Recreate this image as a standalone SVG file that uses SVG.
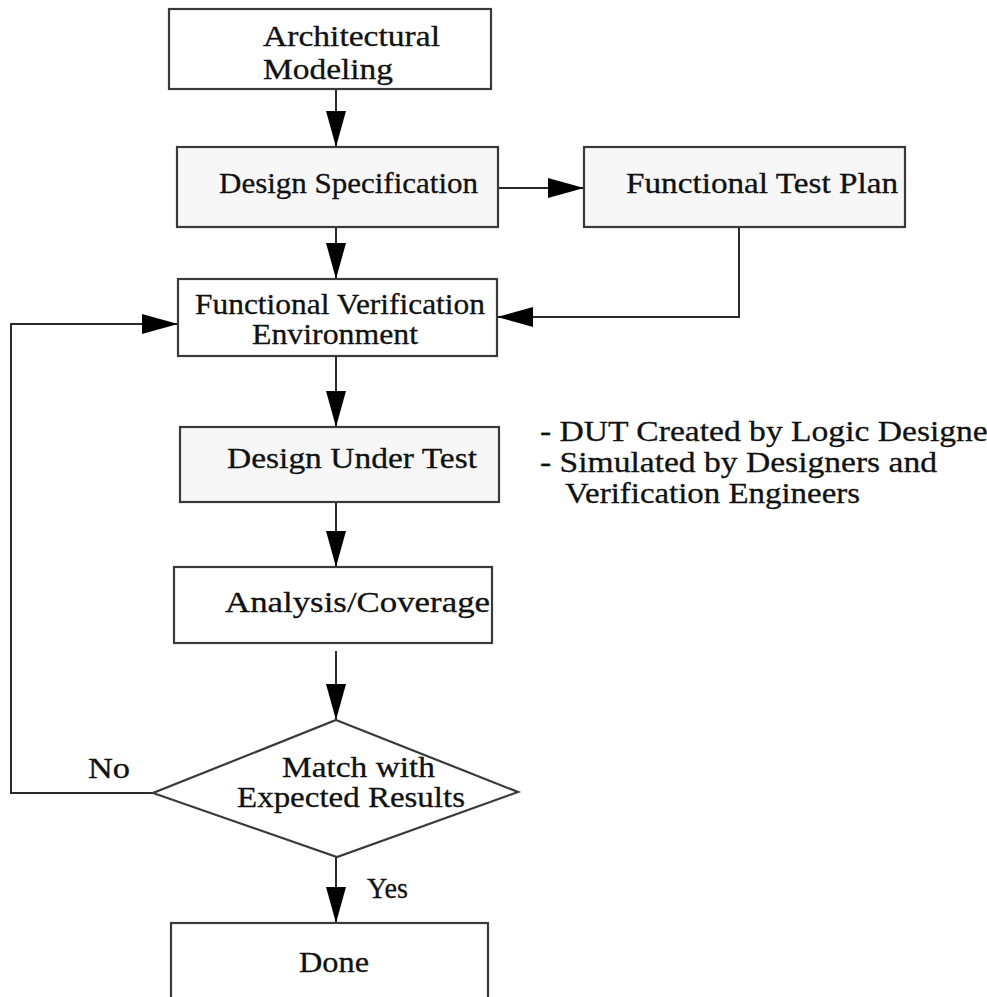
<svg xmlns="http://www.w3.org/2000/svg" width="987" height="997" viewBox="0 0 987 997">
<defs>
<marker id="arr" markerUnits="userSpaceOnUse" markerWidth="36" markerHeight="20" refX="36" refY="10" orient="auto" viewBox="0 0 36 20">
<path d="M0,0 L36,10 L0,20 z" fill="#000"/>
</marker>
</defs>
<style>
.box{stroke:#3a3a3a;stroke-width:2.2;fill:#fff}
.gray{fill:#f7f7f7}
.t{font-family:"Liberation Serif","Times New Roman",serif;font-size:30px;fill:#111;stroke:#111;stroke-width:0.3}
.c{fill:none;stroke:#2a2a2a;stroke-width:2}
.a{marker-end:url(#arr)}
</style>
<rect width="987" height="997" fill="#fff"/>
<g id="connectors">
<line class="c a" x1="336" y1="89" x2="336" y2="147"/>
<line class="c a" x1="336" y1="227" x2="336" y2="279"/>
<line class="c a" x1="498" y1="188" x2="584" y2="188"/>
<polyline class="c a" points="739,227 739,317 497,317"/>
<line class="c a" x1="336" y1="356" x2="336" y2="427"/>
<line class="c a" x1="336" y1="502" x2="336" y2="567"/>
<line class="c a" x1="336" y1="651" x2="336" y2="720"/>
<line class="c a" x1="336" y1="857" x2="336" y2="923"/>
<polyline class="c a" points="153,793 11,793 11,324 178,324"/>
</g>
<g id="architectural-modeling">
<rect class="box" x="169" y="9" width="322" height="80"/>
<text class="t" x="263" y="46" textLength="177" lengthAdjust="spacingAndGlyphs">Architectural</text>
<text class="t" x="263" y="79" textLength="130" lengthAdjust="spacingAndGlyphs">Modeling</text>
</g>
<g id="design-specification">
<rect class="box gray" x="177" y="147" width="321" height="80"/>
<text class="t" x="219" y="193" textLength="259" lengthAdjust="spacingAndGlyphs">Design Specification</text>
</g>
<g id="functional-test-plan">
<rect class="box gray" x="584" y="147" width="321" height="80"/>
<text class="t" x="626" y="193" textLength="272" lengthAdjust="spacingAndGlyphs">Functional Test Plan</text>
</g>
<g id="functional-verification-environment">
<rect class="box" x="178" y="279" width="319" height="77"/>
<text class="t" x="195" y="314" textLength="290" lengthAdjust="spacingAndGlyphs">Functional Verification</text>
<text class="t" x="252" y="344" textLength="166" lengthAdjust="spacingAndGlyphs">Environment</text>
</g>
<g id="design-under-test">
<rect class="box gray" x="180" y="427" width="319" height="75"/>
<text class="t" x="227" y="468" textLength="250" lengthAdjust="spacingAndGlyphs">Design Under Test</text>
</g>
<g id="dut-note">
<text class="t" x="540" y="441" textLength="472" lengthAdjust="spacingAndGlyphs">- DUT Created by Logic Designers</text>
<text class="t" x="540" y="472" textLength="397" lengthAdjust="spacingAndGlyphs">- Simulated by Designers and</text>
<text class="t" x="565" y="503" textLength="295" lengthAdjust="spacingAndGlyphs">Verification Engineers</text>
</g>
<g id="analysis-coverage">
<rect class="box" x="174" y="567" width="318" height="76"/>
<text class="t" x="225" y="612" textLength="265" lengthAdjust="spacingAndGlyphs">Analysis/Coverage</text>
</g>
<g id="match-decision">
<polygon class="box" points="336,720 518,792 337,857 153,793"/>
<text class="t" x="282" y="777" textLength="153" lengthAdjust="spacingAndGlyphs">Match with</text>
<text class="t" x="237" y="807" textLength="228" lengthAdjust="spacingAndGlyphs">Expected Results</text>
</g>
<g id="labels">
<text class="t" x="88" y="778" textLength="42" lengthAdjust="spacingAndGlyphs">No</text>
<text class="t" x="367" y="898" textLength="41" lengthAdjust="spacingAndGlyphs">Yes</text>
</g>
<g id="done">
<rect class="box" x="171" y="923" width="317" height="90"/>
<text class="t" x="299" y="972" textLength="70" lengthAdjust="spacingAndGlyphs">Done</text>
</g>
</svg>
